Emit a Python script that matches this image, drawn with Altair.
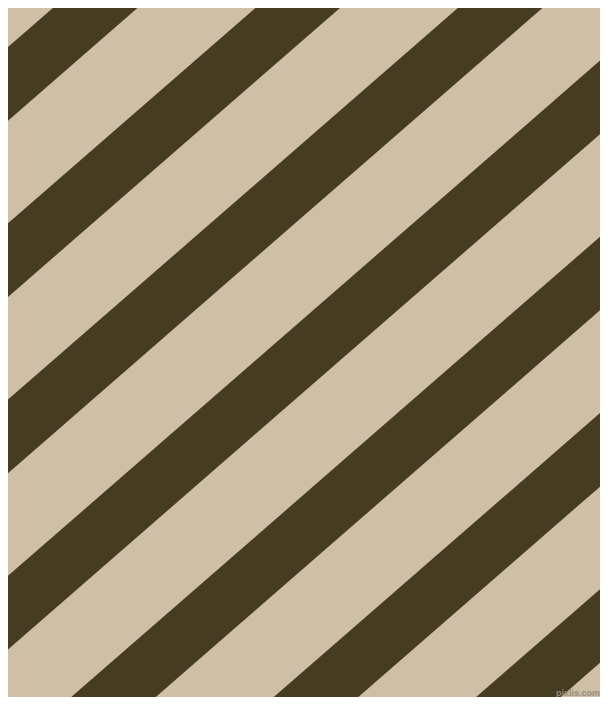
import altair as alt
import pandas as pd

# Diagonal stripe pattern (dark bands).
# Each band is bounded by lines  y = c - slope * x  (image pixels, y downward).
band_id = [0, 1, 2, 3, 4, 5, 6]
band_start = [54.0, 230.3, 406.5, 582.8, 759.0, 935.3, 1111.5]
band_end = [127.6, 303.9, 480.1, 656.4, 832.6, 1008.9, 1185.1]
slope = 0.8704
x_ends = [-20, 630]

light_color = "#d0bfa7"
dark_color = "#463c21"
watermark = "pixlis.com"

rows = []
for b, s, e in zip(band_id, band_start, band_end):
    for xe in x_ends:
        rows.append({"band": b, "px": xe,
                     "ytop": s - slope * xe, "ybot": e - slope * xe})
df = pd.DataFrame(rows)

W, H = 592, 689  # page has an 8px margin; chart covers image pixels 8..600 / 8..697

xs = alt.Scale(domain=[8, 600], nice=False, zero=False)
ys = alt.Scale(domain=[8, 697], nice=False, zero=False, reverse=True)

stripes = (
    alt.Chart(df)
    .mark_area(color=dark_color, clip=True, opacity=1, interpolate="linear")
    .encode(
        x=alt.X("px:Q", scale=xs, axis=None),
        y=alt.Y("ytop:Q", scale=ys, axis=None, stack=None),
        y2=alt.Y2("ybot:Q"),
        detail=alt.Detail("band:N"),
    )
)

wm = (
    alt.Chart(pd.DataFrame({"t": [watermark]}))
    .mark_text(
        align="right",
        baseline="middle",
        fontSize=9,
        fontWeight="bold",
        font="Liberation Sans",
        color="#958b7a",
    )
    .encode(text="t:N", x=alt.value(592), y=alt.value(685))
)

chart = (
    alt.layer(stripes, wm)
    .properties(
        width=W,
        height=H,
        background=light_color,
        padding=0,
        autosize=alt.AutoSizeParams(type="none"),
    )
    .configure_view(stroke=None)
)

chart.save("out.html", embed_options={"renderer": "svg", "actions": False})
